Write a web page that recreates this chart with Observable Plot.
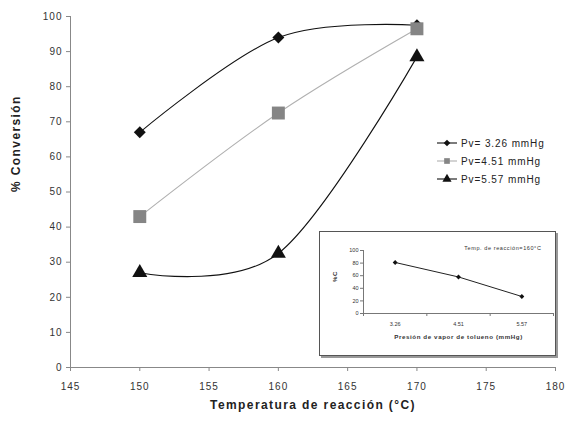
<!DOCTYPE html>
<html>
<head>
<meta charset="utf-8">
<script src="https://cdn.jsdelivr.net/npm/d3@7"></script>
<script src="https://cdn.jsdelivr.net/npm/@observablehq/plot@0.6"></script>
<style>
  body { margin: 0; background: #fff; }
  #wrap { position: relative; width: 567px; height: 428px; font-family: "Liberation Sans", Arial, sans-serif; }
  #legend { position: absolute; left: 436px; top: 134px; font-size: 10px; letter-spacing: 0.9px; color: #222; }
  #legend .row { height: 18px; display: flex; align-items: center; white-space: nowrap; }
  #legend svg { margin-right: 3px; }
  #inset { position: absolute; left: 319px; top: 231px; width: 235px; height: 123px; border: 1px solid #555; box-shadow: 2px 2px 0 #999; background: #fff; }
  #inset svg { display: block; }
</style>
</head>
<body>
<div id="wrap">
  <div id="main"></div>
  <div id="legend"></div>
  <div id="inset"></div>
</div>
<script>
// ---- data ----
const temps = [150, 160, 170];
const seriesNames = ["Pv= 3.26 mmHg", "Pv=4.51 mmHg", "Pv=5.57 mmHg"];
const conv326 = [67, 94, 97.5];
const conv451 = [43, 72.5, 96.5];
const conv557 = [27, 32.5, 88.5];
const xTicks = [145, 150, 155, 160, 165, 170, 175, 180];
const yTicks = [0, 10, 20, 30, 40, 50, 60, 70, 80, 90, 100];
const xLabel = "Temperatura de reacción (°C)";
const yLabel = "% Conversión";

const insetPressures = ["3.26", "4.51", "5.57"];
const insetConv = [81, 58, 27];
const insetYTicks = [0, 20, 40, 60, 80, 100];
const insetTitle = "Temp. de reacción=160°C";
const insetXLabel = "Presión de vapor de tolueno (mmHg)";
const insetYLabel = "%C";

// ---- styles per series ----
const styles = [
  {symbol: "diamond2", r: 5.4, fill: "#111", stroke: "#111", lr: 3},
  {symbol: "square", r: 7.3, fill: "#858585", stroke: "#b0b0b0", lr: 3.2},
  {symbol: "triangle", r: 5.6, fill: "#111", stroke: "#111", lr: 3.4}
];
const allValues = [conv326, conv451, conv557];
const rows = allValues.flatMap((vals, s) => temps.map((t, i) => ({series: s, t, v: vals[i]})));

const font = "Liberation Sans, Arial, sans-serif";

const marks = [];
marks.push(Plot.ruleY([0], {stroke: "#888"}));
marks.push(Plot.ruleX([145], {stroke: "#888"}));
marks.push(Plot.axisY({ticks: yTicks, tickSize: 4, tickPadding: 4, label: null, fontSize: 10, color: "#333", stroke: "#888"}));
marks.push(Plot.axisX({ticks: xTicks, tickSize: 4, tickPadding: 11, label: null, fontSize: 10, color: "#333", stroke: "#888"}));
styles.forEach((st, s) => {
  const d = rows.filter(r => r.series === s);
  marks.push(Plot.line(d, {x: "t", y: "v", curve: "cardinal", tension: 0, stroke: st.stroke, strokeWidth: 1.1}));
});
styles.forEach((st, s) => {
  const d = rows.filter(r => r.series === s);
  marks.push(Plot.dot(d, {x: "t", y: "v", symbol: () => st.symbol, r: st.r, fill: st.fill, stroke: "none"}));
});
marks.push(Plot.text([xLabel], {frameAnchor: "bottom", dy: 41, text: d => d, fontSize: 12, fontWeight: "bold", fill: "#222"}));
marks.push(Plot.text([yLabel], {frameAnchor: "left", dx: -54, rotate: -90, text: d => d, fontSize: 12, fontWeight: "bold", fill: "#222"}));

const main = Plot.plot({
  width: 567, height: 428,
  marginLeft: 70, marginRight: 12, marginTop: 16, marginBottom: 61,
  style: {fontFamily: font, background: "transparent"},
  x: {domain: [145, 180]},
  y: {domain: [0, 100]},
  symbol: {type: "identity"},
  marks
});
main.querySelectorAll('g[aria-label="y-axis tick label"] text, g[aria-label="x-axis tick label"] text').forEach(t => t.setAttribute("letter-spacing", "1"));
main.querySelectorAll('g[aria-label="text"] text').forEach(t => t.setAttribute("letter-spacing", "1.4"));
document.getElementById("main").appendChild(main);

// ---- legend ----
const legend = d3.select("#legend");
seriesNames.forEach((name, s) => {
  const st = styles[s];
  const row = legend.append("div").attr("class", "row");
  const svg = row.append("svg").attr("width", 22).attr("height", 12);
  svg.append("line").attr("x1", 1).attr("x2", 21).attr("y1", 6).attr("y2", 6).attr("stroke", st.stroke).attr("stroke-width", 1.1);
  const sym = {diamond2: d3.symbolDiamond2, square: d3.symbolSquare, triangle: d3.symbolTriangle}[st.symbol];
  svg.append("path").attr("transform", "translate(11,6)").attr("d", d3.symbol(sym, Math.PI * st.lr * st.lr)()).attr("fill", st.fill);
  row.append("span").text(name);
});

// ---- inset ----
const insetRows = insetPressures.map((p, i) => ({i: i + 0.5, p, v: insetConv[i]}));
const inset = Plot.plot({
  width: 235, height: 123,
  marginLeft: 43, marginRight: 2, marginTop: 18, marginBottom: 42,
  style: {fontFamily: font, background: "transparent"},
  x: {domain: [0, insetPressures.length]},
  y: {domain: [0, 100]},
  marks: [
    Plot.ruleY([0], {stroke: "#777"}),
    Plot.ruleX([0], {stroke: "#777"}),
    Plot.axisY({ticks: insetYTicks, tickSize: 3, tickPadding: 2, label: null, fontSize: 5.5, color: "#333", stroke: "#777"}),
    Plot.axisX({ticks: d3.range(insetPressures.length + 1), tickSize: 3, tickFormat: () => "", label: null, stroke: "#777"}),
    Plot.axisX({ticks: insetRows.map(d => d.i), tickSize: 0, tickPadding: 9, tickFormat: (d) => insetPressures[Math.floor(d)], label: null, fontSize: 5.5, color: "#333"}),
    Plot.line(insetRows, {x: "i", y: "v", stroke: "#222", strokeWidth: 1}),
    Plot.dot(insetRows, {x: "i", y: "v", symbol: "diamond2", r: 2.2, fill: "#111"}),
    Plot.text([insetTitle], {frameAnchor: "top-right", dx: -12, dy: -4, textAnchor: "end", text: d => d, fontSize: 5.5, fill: "#333"}),
    Plot.text([insetXLabel], {frameAnchor: "bottom", dy: 25, text: d => d, fontSize: 6.2, fontWeight: "bold", fill: "#333"}),
    Plot.text([insetYLabel], {frameAnchor: "left", dx: -28, rotate: -90, text: d => d, fontSize: 6, fontWeight: "bold", fill: "#333"})
  ]
});
inset.querySelectorAll('g[aria-label="text"] text').forEach(t => t.setAttribute("letter-spacing", "0.6"));
document.getElementById("inset").appendChild(inset);
</script>
</body>
</html>
